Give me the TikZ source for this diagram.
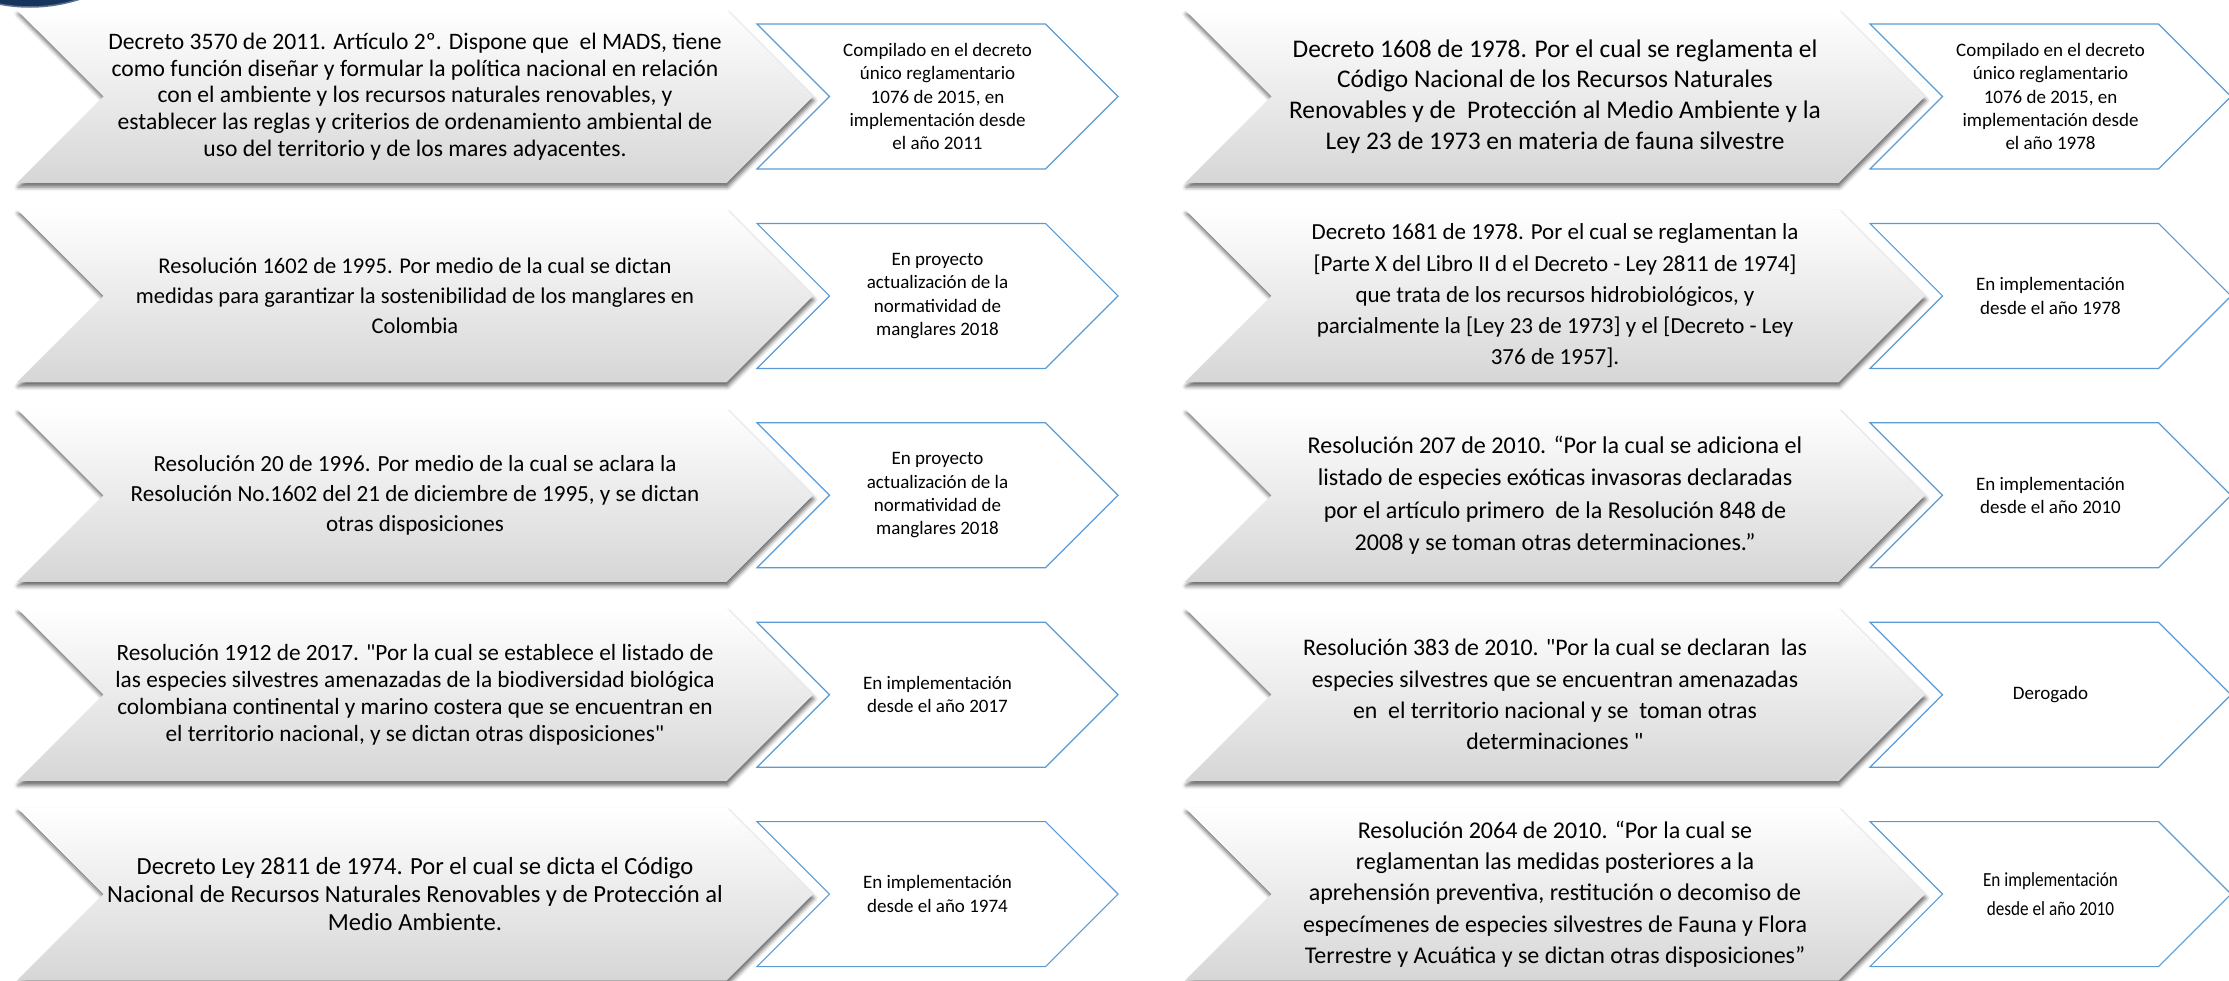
\documentclass[tikz,border=0pt]{standalone}
\usepackage{fontspec}
\setmainfont{Carlito}[Ligatures=TeXOff]
\newfontfamily\narrowfont{Carlito}[FakeStretch=0.86,Ligatures=TeXOff]
\usepackage{tikz}
\usetikzlibrary{positioning,shapes.symbols,shadows.blur}
\definecolor{edgeblue}{RGB}{91,155,213}
\definecolor{navy}{RGB}{22,52,92}
\definecolor{shadegray}{RGB}{214,214,214}
\newcommand{\fs}[2]{\fontsize{#1}{#2}\selectfont}

\begin{document}
\begin{tikzpicture}[
      x=1pt,y=-1pt,
      node distance=26pt,
      law/.style={signal,signal to=east,signal from=west,
        minimum width=796pt,minimum height=173pt,inner sep=0pt,
        top color=white,bottom color=shadegray,
        blur shadow={shadow xshift=1pt,shadow yshift=-4pt,
          shadow blur radius=4pt,shadow opacity=60},
        align=center,font=\fs{22}{26.7}},
      lawright/.style={law,minimum width=740pt},
      tag/.style={signal,signal to=east,signal from=west,
        minimum width=361pt,minimum height=145pt,inner sep=0pt,
        draw=edgeblue,line width=1.2pt,fill=white,
        align=center,font=\fs{19}{23.3}}
    ]
      \useasboundingbox (0,0) rectangle (2229,980);
      \clip (0,0) rectangle (2229,980);
      \fill[navy,draw=navy!70!white,line width=1.5pt] (30,-154) circle (161);

      % left column
      \node[law,font=\fs{23.6}{26.7}](l1) at (415,96.5){%
        Decreto 3570 de 2011. Artículo 2º. Dispone que\ \ el MADS, tiene\\
        como función diseñar y formular la política nacional en relación\\
        con el ambiente y los recursos naturales renovables, y\\
        establecer las reglas y criterios de ordenamiento ambiental de\\
        uso del territorio y de los mares adyacentes.};
      \node[law,below=of l1,font=\fs{22.5}{30}](l2){%
        Resolución 1602 de 1995. Por medio de la cual se dictan\\
        medidas para garantizar la sostenibilidad de los manglares en\\
        Colombia};
      \node[law,below=of l2,font=\fs{23.1}{30}](l3){%
        Resolución 20 de 1996. Por medio de la cual se aclara la\\
        Resolución No.1602 del 21 de diciembre de 1995, y se dictan\\
        otras disposiciones};
      \node[law,below=of l3,font=\fs{23.3}{27}](l4){%
        Resolución 1912 de 2017. "Por la cual se establece el listado de\\
        las especies silvestres amenazadas de la biodiversidad biológica\\
        colombiana continental y marino costera que se encuentran en\\
        el territorio nacional, y se dictan otras disposiciones"};
      \node[law,below=of l4,font=\fs{24.6}{28.4}](l5){%
        Decreto Ley 2811 de 1974. Por el cual se dicta el Código\\
        Nacional de Recursos Naturales Renovables y de Protección al\\
        Medio Ambiente.};

      \node[tag](t1) at ([xshift=522.5pt]l1.center){%
        Compilado en el decreto\\ único reglamentario\\ 1076 de 2015, en\\
        implementación desde\\ el año 2011};
      \node[tag](t2) at ([xshift=522.5pt]l2.center){%
        En proyecto\\ actualización de la\\ normatividad de\\ manglares 2018};
      \node[tag](t3) at ([xshift=522.5pt]l3.center){%
        En proyecto\\ actualización de la\\ normatividad de\\ manglares 2018};
      \node[tag](t4) at ([xshift=522.5pt]l4.center){%
        En implementación\\ desde el año 2017};
      \node[tag](t5) at ([xshift=522.5pt]l5.center){%
        En implementación\\ desde el año 1974};

      % right column
      \node[lawright,font=\fs{25.4}{30.8}](r1) at (1555,96.5){%
        Decreto 1608 de 1978. Por el cual se reglamenta el\\
        Código Nacional de los Recursos Naturales\\
        Renovables y de\ \ Protección al Medio Ambiente y la\\
        Ley 23 de 1973 en materia de fauna silvestre};
      \node[lawright,below=of r1,font=\fs{23}{31.3}](r2){%
        Decreto 1681 de 1978. Por el cual se reglamentan la\\
        {[}Parte X del Libro II d el Decreto - Ley 2811 de 1974]\\
        que trata de los recursos hidrobiológicos, y\\
        parcialmente la [Ley 23 de 1973] y el [Decreto - Ley\\
        376 de 1957].};
      \node[lawright,below=of r2,font=\fs{24.1}{32.5}](r3){%
        Resolución 207 de 2010. “Por la cual se adiciona el\\
        listado de especies exóticas invasoras declaradas\\
        por el artículo primero\ \ de la Resolución 848 de\\
        2008 y se toman otras determinaciones.”};
      \node[lawright,below=of r3,font=\fs{23.8}{31.3}](r4){%
        Resolución 383 de 2010. "Por la cual se declaran\ \ las\\
        especies silvestres que se encuentran amenazadas\\
        en\ \ el territorio nacional y se\ \ toman otras\\
        determinaciones "};
      \node[lawright,below=of r4,font=\fs{24}{31.3}](r5){%
        Resolución 2064 de 2010. “Por la cual se\\
        reglamentan las medidas posteriores a la\\
        aprehensión preventiva, restitución o decomiso de\\
        especímenes de especies silvestres de Fauna y Flora\\
        Terrestre y Acuática y se dictan otras disposiciones”};

      \node[tag](u1) at ([xshift=495.5pt]r1.center){%
        Compilado en el decreto\\ único reglamentario\\ 1076 de 2015, en\\
        implementación desde\\ el año 1978};
      \node[tag](u2) at ([xshift=495.5pt]r2.center){%
        En implementación\\ desde el año 1978};
      \node[tag](u3) at ([xshift=495.5pt]r3.center){%
        En implementación\\ desde el año 2010};
      \node[tag](u4) at ([xshift=495.5pt]r4.center){Derogado};
      \node[tag,font=\narrowfont\fs{20}{29}](u5) at ([xshift=495.5pt]r5.center){%
        En implementación\\ desde el año 2010};
    \end{tikzpicture}
\end{document}
